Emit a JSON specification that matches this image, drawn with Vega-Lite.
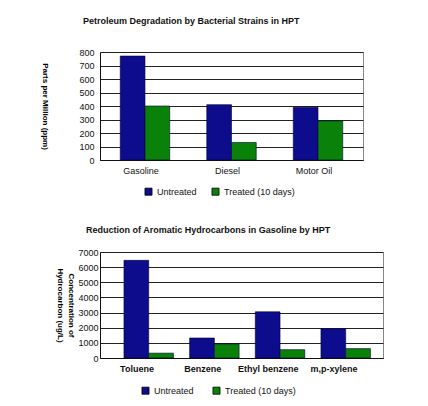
{
  "$schema": "https://vega.github.io/schema/vega-lite/v6.json",
  "background": "white",
  "padding": {"top": 16, "left": 40, "right": 10, "bottom": 5},
  "spacing": 92,
  "bounds": "flush",
  "config": {
    "font": "Liberation Sans",
    "view": {"stroke": "#888", "strokeWidth": 1},
    "title": {"fontSize": 9, "fontWeight": "bold", "color": "#111", "anchor": "start", "frame": "group"},
    "axis": {"labelFontSize": 9, "labelColor": "#111", "domainColor": "#111", "tickColor": "#111"},
    "legend": {"labelFontSize": 9, "labelColor": "#111", "symbolType": "square", "symbolSize": 50, "symbolStrokeColor": "#000", "symbolStrokeWidth": 0.8}
  },
  "datasets": {
    "petroleum": [
      {"fuel": "Gasoline", "status": "Untreated", "ppm": 770},
      {"fuel": "Gasoline", "status": "Treated (10 days)", "ppm": 400},
      {"fuel": "Diesel", "status": "Untreated", "ppm": 410},
      {"fuel": "Diesel", "status": "Treated (10 days)", "ppm": 130},
      {"fuel": "Motor Oil", "status": "Untreated", "ppm": 390},
      {"fuel": "Motor Oil", "status": "Treated (10 days)", "ppm": 290}
    ],
    "aromatics": [
      {"compound": "Toluene", "status": "Untreated", "ugl": 6450},
      {"compound": "Toluene", "status": "Treated (10 days)", "ugl": 320},
      {"compound": "Benzene", "status": "Untreated", "ugl": 1320},
      {"compound": "Benzene", "status": "Treated (10 days)", "ugl": 920},
      {"compound": "Ethyl benzene", "status": "Untreated", "ugl": 3050},
      {"compound": "Ethyl benzene", "status": "Treated (10 days)", "ugl": 550},
      {"compound": "m,p-xylene", "status": "Untreated", "ugl": 1930},
      {"compound": "m,p-xylene", "status": "Treated (10 days)", "ugl": 620}
    ]
  },
  "vconcat": [
    {
      "title": {"text": "Petroleum Degradation by Bacterial Strains in HPT", "offset": 22, "dx": -17},
      "data": {"name": "petroleum"},
      "width": 263,
      "height": 108,
      "mark": {"type": "bar", "stroke": "#000033", "strokeWidth": 0.6},
      "encoding": {
        "x": {
          "field": "fuel", "type": "nominal", "sort": ["Gasoline", "Diesel", "Motor Oil"],
          "scale": {"paddingInner": 0.428, "paddingOuter": 0.234},
          "axis": {"title": null, "labelAngle": 0, "ticks": false, "labelPadding": 6, "labelOffset": -4}
        },
        "xOffset": {"field": "status", "sort": ["Untreated", "Treated (10 days)"]},
        "y": {
          "field": "ppm", "type": "quantitative",
          "scale": {"domain": [0, 800]},
          "axis": {"values": [0, 100, 200, 300, 400, 500, 600, 700, 800], "format": "d", "title": "Parts per Million (ppm)", "titleAngle": 90, "titleFontSize": 8, "titleFontWeight": "bold", "titlePadding": 38, "gridColor": "#222", "ticks": false, "labelPadding": 6}
        },
        "color": {
          "field": "status", "type": "nominal",
          "scale": {"domain": ["Untreated", "Treated (10 days)"], "range": ["#0c0c8c", "#0a820a"]},
          "legend": {"title": null, "orient": "none", "direction": "horizontal", "legendX": 44, "legendY": 135, "columnPadding": 13}
        }
      }
    },
    {
      "title": {"text": "Reduction of Aromatic Hydrocarbons in Gasoline by HPT", "offset": 13, "dx": -14},
      "data": {"name": "aromatics"},
      "width": 283,
      "height": 106,
      "mark": {"type": "bar", "stroke": "#000033", "strokeWidth": 0.6},
      "encoding": {
        "x": {
          "field": "compound", "type": "nominal", "sort": ["Toluene", "Benzene", "Ethyl benzene", "m,p-xylene"],
          "scale": {"paddingInner": 0.42, "paddingOuter": 0.365},
          "axis": {"title": null, "labelAngle": 0, "ticks": false, "labelPadding": 6, "labelOffset": -6, "labelFontWeight": "bold"}
        },
        "xOffset": {"field": "status", "sort": ["Untreated", "Treated (10 days)"]},
        "y": {
          "field": "ugl", "type": "quantitative",
          "scale": {"domain": [0, 7000]},
          "axis": {"values": [0, 1000, 2000, 3000, 4000, 5000, 6000, 7000], "format": "d", "title": ["Concentration of", "Hydrocarbon (ug/L)"], "titleAngle": 90, "titleFontSize": 8, "titleFontWeight": "bold", "titleLineHeight": 11, "titlePadding": 0, "gridColor": "#222", "ticks": false, "labelPadding": 2}
        },
        "color": {
          "field": "status", "type": "nominal",
          "scale": {"domain": ["Untreated", "Treated (10 days)"], "range": ["#0c0c8c", "#0a820a"]},
          "legend": {"title": null, "orient": "none", "direction": "horizontal", "legendX": 41, "legendY": 134, "columnPadding": 17}
        }
      }
    }
  ],
  "resolve": {"legend": {"color": "independent"}}
}
